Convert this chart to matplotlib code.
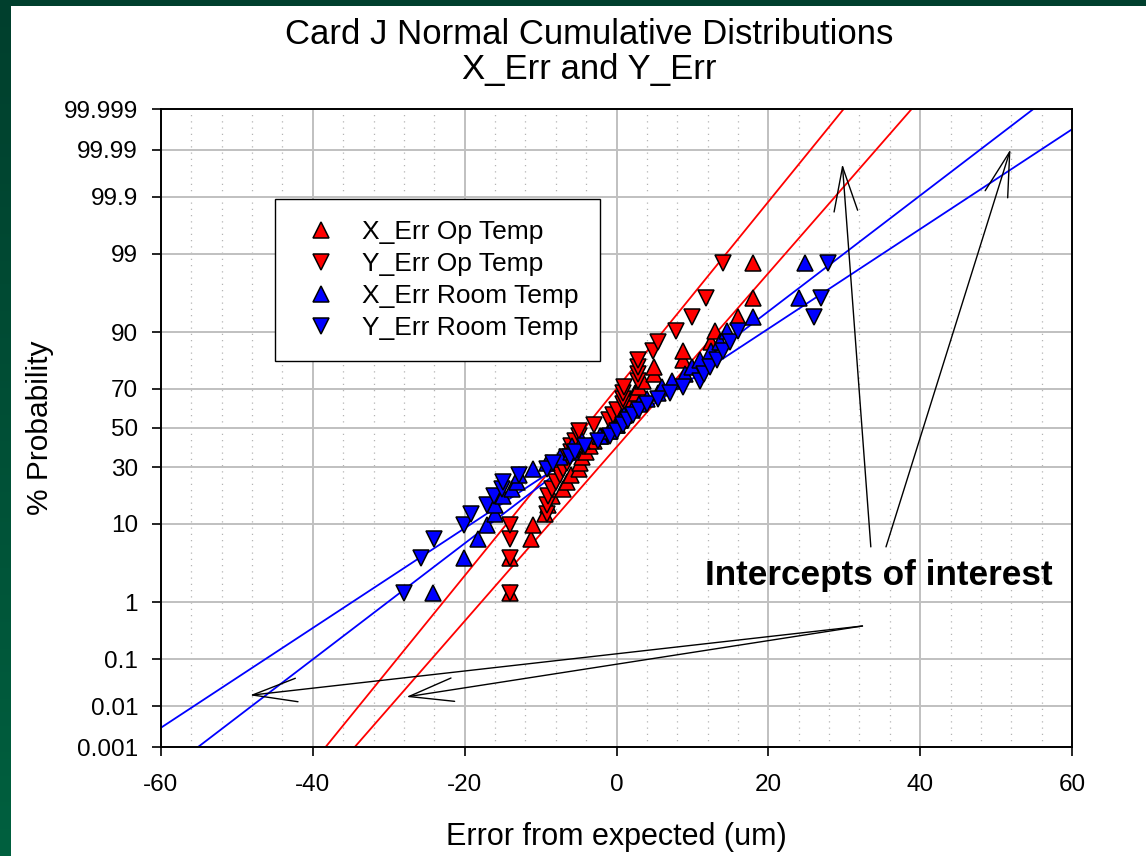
import numpy as np
import matplotlib
matplotlib.use("Agg")
import matplotlib.pyplot as plt
from matplotlib.colors import LinearSegmentedColormap
from matplotlib.patches import Rectangle
from matplotlib.ticker import MultipleLocator, NullLocator
from statistics import NormalDist

plt.rcParams['font.family'] = ['Liberation Sans', 'DejaVu Sans']
plt.rcParams['axes.unicode_minus'] = False

# Sorted errors (um) for each data set
x_err_op = [-14, -14, -11.2, -11, -9.4, -9, -8.5, -7, -6.5, -6, -5, -4.8,
            -4.5, -4, -3.5, -3, -2, -1, 0, 0.5, 1, 1, 1.5, 2, 2.5, 3,
            3.5, 5, 5, 8.8, 8.8, 12.5, 13, 16, 18, 18]
y_err_op = [-14, -14, -14, -14, -9.2, -9.2, -9, -8.5, -8, -7.5, -7, -6.5,
            -6.5, -6, -6, -5.5, -5, -5, -3, -1, -0.5, 0, 0.9, 0.9, 0.9, 1,
            2.8, 2.8, 2.8, 2.8, 4.85, 5.5, 7.9, 9.9, 11.8, 14]
x_err_room = [-24.2, -20.1, -18.2, -17.1, -16, -16, -15, -13.8, -13.1, -12.9,
              -11, -9.2, -7.5, -6, -5.8, -4.6, -2.2, -0.9, 0, 0.5, 1, 2,
              3, 4, 5.5, 6, 7.3, 9, 10, 11, 12.5, 13.6, 14.5, 18, 24, 24.8]
y_err_room = [-28, -25.7, -24.1, -20.1, -19.1, -17.1, -16.2, -15.1, -14.9,
              -12.9, -9.2, -8.3, -6.1, -5.5, -4.1, -2.5, -0.9, 0, 0.8, 1.5,
              2.2, 3, 4, 5.5, 7, 8.8, 11, 11.5, 12.3, 13.2, 14, 15, 16,
              26, 27, 27.9]

# fitted normal lines (mean, sd)
fit_x_op = (2.2, 8.6)
fit_y_op = (-4.2, 8.0)
fit_x_room = (-0.1, 12.9)
fit_y_room = (0.1, 15.0)

n = len(x_err_op)
pct = (np.arange(1, n + 1) - 0.5) / n * 100   # cumulative plotting positions

prob_ticks = [0.001, 0.01, 0.1, 1, 10, 30, 50, 70, 90, 99, 99.9, 99.99, 99.999]
prob_labels = ['0.001', '0.01', '0.1', '1', '10', '30', '50', '70', '90',
               '99', '99.9', '99.99', '99.999']

_nd = NormalDist()
_ppf = np.vectorize(_nd.inv_cdf, otypes=[float])
_cdf = np.vectorize(_nd.cdf, otypes=[float])


def to_z(p):
    p = np.clip(np.asarray(p, dtype=float) / 100, 1e-12, 1 - 1e-12)
    return _ppf(p)


def from_z(z):
    return _cdf(np.asarray(z, dtype=float)) * 100


fig = plt.figure(figsize=(11.46, 8.56), dpi=100)

# green slide border behind a white panel
bg = fig.add_axes([0, 0, 1, 1], zorder=-10)
grad = np.linspace(0, 1, 256).reshape(-1, 1)
cmap = LinearSegmentedColormap.from_list('slide', ['#003f2d', '#00603f'])
bg.imshow(grad, aspect='auto', cmap=cmap, extent=[0, 1, 0, 1], origin='upper')
bg.add_patch(Rectangle((11 / 1146, 0), 1, 1 - 6 / 856, facecolor='white',
                       edgecolor='none'))
bg.set_xlim(0, 1)
bg.set_ylim(0, 1)
bg.axis('off')

ax = fig.add_axes([161 / 1146, 1 - 747 / 856, 911 / 1146, 638 / 856])
ax.set_yscale('function', functions=(to_z, from_z))

# fit lines
xs = np.linspace(-60, 60, 241)
for (mu, sd), col in [(fit_x_op, 'red'), (fit_y_op, 'red'),
                      (fit_x_room, 'blue'), (fit_y_room, 'blue')]:
    dist = NormalDist(mu, sd)
    ax.plot(xs, [dist.cdf(v) * 100 for v in xs], color=col, lw=1.3, zorder=2)

mk = dict(ls='none', ms=12, mec='black', mew=1.1, zorder=3)
ax.plot(x_err_op, pct, marker='^', mfc='red', label='X_Err Op Temp', **mk)
ax.plot(y_err_op, pct, marker='v', mfc='red', label='Y_Err Op Temp', **mk)
ax.plot(x_err_room, pct, marker='^', mfc='blue', label='X_Err Room Temp', **mk)
ax.plot(y_err_room, pct, marker='v', mfc='blue', label='Y_Err Room Temp', **mk)

ax.set_xlim(-60, 60)
ax.set_ylim(0.001, 99.999)
ax.xaxis.set_major_locator(MultipleLocator(20))
ax.xaxis.set_minor_locator(MultipleLocator(4))
ax.set_yticks(prob_ticks, labels=prob_labels)
ax.yaxis.set_minor_locator(NullLocator())

ax.grid(which='major', color='#c0c0c0', lw=1.4)
ax.grid(which='minor', axis='x', color='#b4b4b4', lw=0.9, ls=(0, (1, 4)))
ax.set_axisbelow(True)
ax.tick_params(which='major', direction='out', length=6.5, width=1.2,
               labelsize=17.5, pad=10, colors='black')
ax.tick_params(axis='x', which='major', pad=13)
ax.tick_params(which='minor', length=0)
for s in ax.spines.values():
    s.set_linewidth(1.4)

ax.set_xlabel('Error from expected (um)', fontsize=22, labelpad=19)
ax.set_ylabel('% Probability', fontsize=21.5, labelpad=7)

fig.text(589 / 1146, 1 - 52 / 856,
         'Card J Normal Cumulative Distributions\nX_Err and Y_Err',
         ha='center', va='center', fontsize=25, linespacing=1.1)

leg = ax.legend(loc='upper left', bbox_to_anchor=(0.125, 0.859),
                borderaxespad=0, fontsize=19, frameon=True, fancybox=False,
                edgecolor='black', framealpha=1, numpoints=1,
                borderpad=0.8, handlelength=1.9, handletextpad=0.6,
                labelspacing=0.3)
leg.get_frame().set_linewidth(1.0)

# annotation
ax.text(11.6, 1.79, 'Intercepts of interest', fontsize=25.3, fontweight='bold',
        ha='left', va='baseline')
head = dict(arrowstyle='->,head_length=3.2,head_width=0.85', color='black',
            lw=1, shrinkA=0, shrinkB=0, mutation_scale=10)
ax.annotate('', xy=(-48.3, 0.0176), xytext=(32.4, 0.406), arrowprops=head)
ax.annotate('', xy=(-27.7, 0.0162), xytext=(32.4, 0.406), arrowprops=head)
ax.annotate('', xy=(29.75, 99.9791), xytext=(33.5, 5.6), arrowprops=head)
ax.annotate('', xy=(51.9, 99.9903), xytext=(35.5, 5.6), arrowprops=head)

fig.savefig('out.png', dpi=100)
